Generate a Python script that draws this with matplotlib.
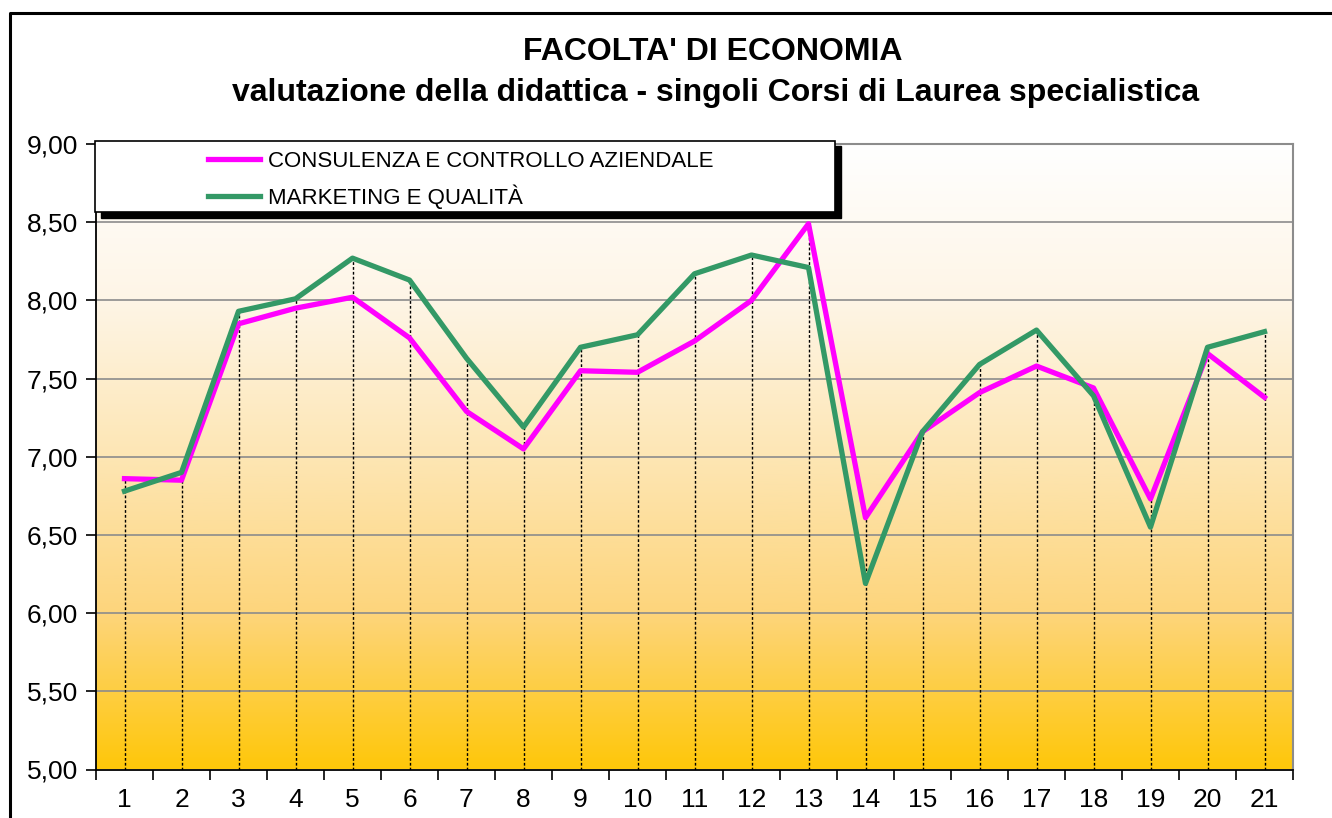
import numpy as np
import matplotlib
matplotlib.use("Agg")
import matplotlib.pyplot as plt
from matplotlib.colors import LinearSegmentedColormap
from matplotlib.lines import Line2D
from matplotlib.patches import Rectangle
from matplotlib.ticker import FuncFormatter, FixedLocator

plt.rcParams['font.family'] = ['Liberation Sans', 'DejaVu Sans']

# dati
corsi = list(range(1, 22))
consulenza = [6.86, 6.85, 7.85, 7.95, 8.02, 7.76, 7.29, 7.05, 7.55, 7.54, 7.74,
              8.00, 8.49, 6.61, 7.16, 7.41, 7.58, 7.44, 6.73, 7.66, 7.38]
marketing = [6.78, 6.90, 7.93, 8.01, 8.27, 8.13, 7.63, 7.19, 7.70, 7.78, 8.17,
             8.29, 8.21, 6.19, 7.16, 7.59, 7.81, 7.39, 6.55, 7.70, 7.80]
serie_nomi = ["CONSULENZA E CONTROLLO AZIENDALE", "MARKETING E QUALITÀ"]
yticks = [5.0, 5.5, 6.0, 6.5, 7.0, 7.5, 8.0, 8.5, 9.0]

W, H = 1332, 818
fig = plt.figure(figsize=(W/100, H/100), dpi=100)
ax = fig.add_axes([96/W, 1-769.5/H, (1293-96)/W, (769.5-144)/H])

# sfondo sfumato
cmap = LinearSegmentedColormap.from_list("sfondo", [
    (0.0, "#FFC70A"), (0.25, "#FDD57C"), (0.5, "#FDE6B4"),
    (0.75, "#FEF5E6"), (1.0, "#FFFFFF")])
grad = np.linspace(0, 1, 256).reshape(-1, 1)
ax.imshow(grad, cmap=cmap, origin="lower", aspect="auto",
          extent=[0.5, 21.5, 5, 9], zorder=0)

for v in yticks[1:-1]:
    ax.axhline(v, color="#8c8c8c", lw=1.2, zorder=1)

# linee di proiezione
top = np.maximum(consulenza, marketing)
ax.vlines(corsi, 5, top, colors="black", linestyles=(0, (2, 1.5)), lw=1.0, zorder=2)

ax.plot(corsi, consulenza, color="#FF00FF", lw=3.8, label=serie_nomi[0], zorder=3)
ax.plot(corsi, marketing, color="#339966", lw=3.8, label=serie_nomi[1], zorder=4)

ax.set_xlim(0.5, 21.5)
ax.set_ylim(5, 9)
ax.set_yticks(yticks)
ax.yaxis.set_major_formatter(FuncFormatter(lambda v, p: f"{v:.2f}".replace(".", ",")))
ax.set_xticks(corsi)
ax.set_xticklabels([str(c) for c in corsi])
ax.xaxis.set_minor_locator(FixedLocator(np.arange(0.5, 22, 1)))
ax.tick_params(axis="x", which="major", length=0, pad=13, labelsize=19)
ax.tick_params(axis="x", which="minor", length=7, width=1.2, direction="out")
ax.tick_params(axis="y", length=7, width=1.2, direction="out", labelsize=19, pad=6)

for s in ["top", "right"]:
    ax.spines[s].set_color("#8c8c8c")
    ax.spines[s].set_linewidth(1.5)
for s in ["left", "bottom"]:
    ax.spines[s].set_color("black")
    ax.spines[s].set_linewidth(1.3)

# legenda con ombra
fig.patches.append(Rectangle((101/W, 1-218/H), 740/W, 72/H, transform=fig.transFigure,
                             facecolor="black", edgecolor="black", zorder=5))
fig.patches.append(Rectangle((95/W, 1-212/H), 740/W, 71/H, transform=fig.transFigure,
                             facecolor="white", edgecolor="black", lw=1.2, zorder=6))
leg = fig.legend(loc="upper left", bbox_to_anchor=(208/W, 1-151/H), frameon=False,
                 fontsize=16, handlelength=2.35, handletextpad=0.35, labelspacing=0.55,
                 borderpad=0, borderaxespad=0)
leg.set_zorder(7)

# titolo
fig.text(713/W, 1-52/H, "FACOLTA' DI ECONOMIA", ha="center", va="center",
         fontsize=23, fontweight="bold")
fig.text(716/W, 1-93/H, "valutazione della didattica - singoli Corsi di Laurea specialistica",
         ha="center", va="center", fontsize=23, fontweight="bold")

# cornice
fig.lines.append(Line2D([10/W, 10/W, 1.0], [0, 1-13/H, 1-13/H], transform=fig.transFigure,
                        color="black", lw=2.2))

fig.savefig("out.png", dpi=100)
